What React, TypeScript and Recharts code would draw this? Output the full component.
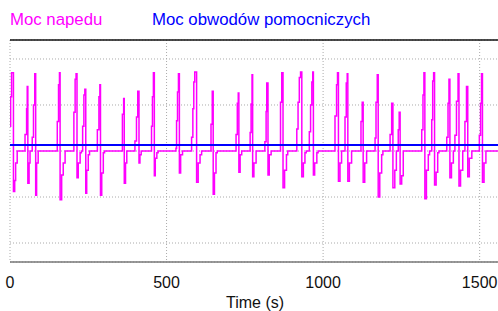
import React from "react";
import {
  LineChart,
  Line,
  XAxis,
  YAxis,
  CartesianGrid,
  ReferenceLine,
  Label,
} from "recharts";

// drive power (kW) as step changes: time (s) -> value
const driveTime = [
  0, 2, 5, 11, 15, 18, 23,
  48, 53, 55, 57, 61, 64,
  71, 75, 79, 82, 85, 90,
  151, 155, 158, 160, 165, 170, 176,
  204, 208, 211, 214, 218, 224, 228,
  232, 236, 239, 242, 245, 250, 254,
  279, 284, 287, 289, 293, 298, 302,
  359, 363, 365, 369, 373,
  399, 404, 408, 412, 415, 419,
  452, 455, 458, 461, 464, 469, 473,
  530, 532, 535, 538, 541, 545, 551,
  580, 584, 587, 590, 596, 601, 607, 612,
  642, 646, 649, 653, 658, 662,
  722, 726, 729, 731, 735, 740,
  767, 770, 773, 775, 779, 786,
  814, 818, 820, 824, 828, 834,
  864, 868, 872, 877, 883, 887,
  916, 920, 924, 928, 932, 937, 942, 946,
  956, 960, 964, 967, 969, 973, 980, 984,
  1038, 1043, 1046, 1049, 1054, 1059,
  1070, 1074, 1077, 1079, 1084, 1091,
  1121, 1125, 1128, 1133, 1139,
  1166, 1169, 1173, 1176, 1181, 1187, 1191,
  1214, 1219, 1223, 1229, 1234,
  1240, 1243, 1246, 1251, 1256,
  1315, 1319, 1322, 1325, 1330, 1336, 1340,
  1347, 1350, 1353, 1356, 1361, 1366, 1370,
  1395, 1399, 1402, 1405, 1410, 1416,
  1421, 1426, 1431, 1434, 1439, 1446,
  1453, 1458, 1462, 1467, 1475,
  1499, 1503, 1506, 1509, 1514, 1520,
  1565,
];

const drivePower = [
  27, 59, 85, -44, -32, -13, 0,
  18, 46, 70, -35, -13, 0,
  15, 50, 84, -48, -13, 0,
  32, 72, 85, -53, -26, -13, 0,
  42, 78, 84, -29, -13, -2, 0,
  27, 61, 67, -46, -21, -4, 0,
  23, 59, 72, -48, -24, -2, 0,
  40, 57, -35, -13, 0,
  11, 37, 65, -13, -4, 0,
  27, 59, 85, -27, -8, -2, 0,
  3, 33, 64, 84, -24, -4, 0,
  15, 46, 75, 86, -34, -13, -4, 0,
  29, 65, -47, -24, -2, 0,
  18, 52, 63, -23, -4, 0,
  20, 51, 83, -28, -13, 0,
  10, 43, 74, -26, -4, 0,
  53, 85, -40, -21, -4, 0,
  24, 53, 80, 86, -28, -13, -2, 0,
  21, 50, 75, 86, -26, -13, -2, 0,
  38, 72, 85, -33, -13, 0,
  37, 74, 84, -33, -13, 0,
  32, 53, -34, -13, 0,
  14, 53, 83, -50, -24, -4, 0,
  18, 52, -40, -21, 0,
  23, 42, -36, -27, 0,
  23, 61, 85, -52, -21, -4, 0,
  34, 76, 85, -37, -23, -2, 0,
  15, 52, 78, -29, -13, 0,
  17, 54, 84, -38, -21, 0,
  32, 70, -28, -8, 0,
  17, 52, 84, -34, -13, 0,
  0,
];

// auxiliary circuits power, constant over the run
const auxTime = [0, 1565];
const auxPower = [6.5, 6.5];

const xTicks = [0, 500, 1000, 1500];
const yTicks = [-100, -50, 0, 50, 100];

const driveData = driveTime.map((t, i) => ({ t, p: drivePower[i] }));
const auxData = auxTime.map((t, i) => ({ t, p: auxPower[i] }));

const FONT = "'Liberation Sans', Arial, sans-serif";
const DRIVE_COLOR = "#ff00ff";
const AUX_COLOR = "#0000ff";

export default function App() {
  return (
    <div
      style={{
        position: "fixed",
        left: 0,
        top: 0,
        width: 498,
        height: 311,
        overflow: "hidden",
        background: "#fff",
        fontFamily: FONT,
      }}
    >
      <div style={{ position: "absolute", left: 10, top: 10, fontSize: 16.8, color: DRIVE_COLOR }}>
        Moc napedu
      </div>
      <div style={{ position: "absolute", left: 152, top: 10, fontSize: 16.8, color: AUX_COLOR }}>
        Moc obwodów pomocniczych
      </div>
      <LineChart
        width={502}
        height={311}
        margin={{ top: 40, right: 2, bottom: 0, left: 10 }}
        style={{ fontFamily: FONT }}
      >
        <CartesianGrid stroke="#aaa" strokeDasharray="1 2" />
        <XAxis
          type="number"
          dataKey="t"
          domain={[0, 1565]}
          ticks={xTicks}
          allowDataOverflow
          height={49}
          tickLine={false}
          tickSize={6}
          tickMargin={9}
          axisLine={{ stroke: "#777", strokeWidth: 1.5 }}
          tick={{ fill: "#111", fontSize: 16 }}
        >
          <Label
            value="Time (s)"
            position="insideBottom"
            offset={3}
            style={{ fill: "#111", fontSize: 16 }}
          />
        </XAxis>
        <YAxis
          type="number"
          domain={[-120.65, 120.65]}
          ticks={yTicks}
          allowDataOverflow
          width={0}
          tick={() => <g />}
          tickLine={false}
          axisLine={{ stroke: "#444", strokeWidth: 1.5 }}
        />
        <ReferenceLine y={120.65} stroke="#111" strokeWidth={1.5} />
        <Line
          data={driveData}
          dataKey="p"
          type="stepAfter"
          stroke={DRIVE_COLOR}
          strokeWidth={1.5}
          dot={false}
          isAnimationActive={false}
        />
        <Line
          data={auxData}
          dataKey="p"
          type="linear"
          stroke={AUX_COLOR}
          strokeWidth={2}
          dot={false}
          isAnimationActive={false}
        />
      </LineChart>
    </div>
  );
}
